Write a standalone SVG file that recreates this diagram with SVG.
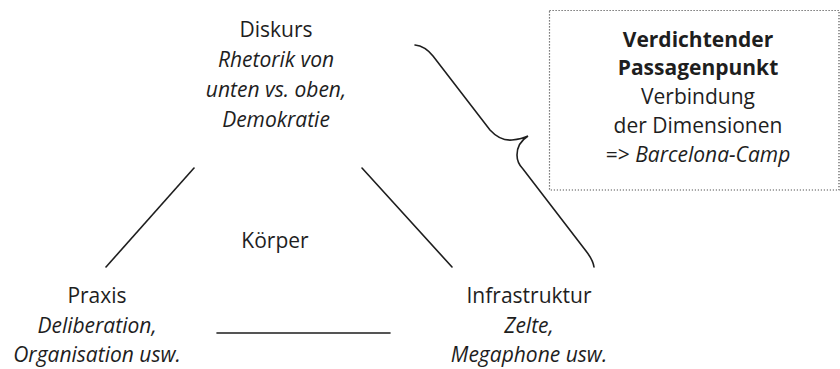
<svg xmlns="http://www.w3.org/2000/svg" width="840" height="369" viewBox="0 0 840 369">
<style>
text{font-family:"Open Sans","Noto Sans","Liberation Sans",sans-serif;font-size:21px;fill:#1e1e1e;text-anchor:middle}
.i{font-style:italic}
.b{font-weight:bold}
.ln{stroke:#1e1e1e;stroke-width:1.6;fill:none;stroke-linecap:round}
.box{fill:none;stroke:#555;stroke-width:1.2;stroke-dasharray:1.2 1.8}
</style>
<rect width="840" height="369" fill="#fff"/>
<g id="diskurs">
<text x="276" y="37">Diskurs</text>
<text class="i" x="276" y="67">Rhetorik von</text>
<text class="i" x="276" y="97">unten vs. oben,</text>
<text class="i" x="276" y="127">Demokratie</text>
</g>
<g id="koerper">
<text x="275" y="248">Körper</text>
</g>
<g id="praxis">
<text x="97" y="303">Praxis</text>
<text class="i" x="97" y="333">Deliberation,</text>
<text class="i" x="97" y="362">Organisation usw.</text>
</g>
<g id="infrastruktur">
<text x="529" y="303">Infrastruktur</text>
<text class="i" x="529" y="333">Zelte,</text>
<text class="i" x="529" y="362">Megaphone usw.</text>
</g>
<g id="passagenpunkt">
<rect class="box" x="549.5" y="10.5" width="289.5" height="179.5"/>
<text class="b" x="698" y="47">Verdichtender</text>
<text class="b" x="698" y="75">Passagenpunkt</text>
<text x="698" y="104">Verbindung</text>
<text x="698" y="133">der Dimensionen</text>
<text x="698" y="162">=&gt; <tspan class="i">Barcelona-Camp</tspan></text>
</g>
<g id="connectors">
<line class="ln" x1="194" y1="168" x2="106" y2="267"/>
<line class="ln" x1="362" y1="168" x2="452" y2="267"/>
<line class="ln" x1="217" y1="333" x2="390" y2="333"/>
<path class="ln" d="M415,45 Q425,46 433,56 L490,130 Q500,141 512,140 Q522,139 528,136 Q517,143 517,155 Q517,163 523,169 L586,251 Q593,260 594,267"/>
</g>
</svg>
